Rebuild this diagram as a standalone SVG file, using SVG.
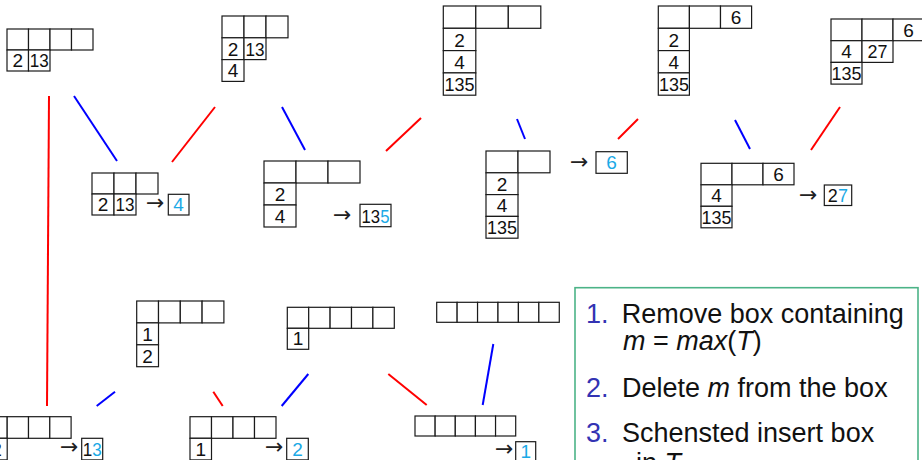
<svg xmlns="http://www.w3.org/2000/svg" width="922" height="460" viewBox="0 0 922 460">
<style>
.c{fill:#fff;stroke:#1a1a1a;stroke-width:1.2}
.t{font-family:"Liberation Sans",Arial,sans-serif;font-size:19px;text-anchor:middle;fill:#111}
.s{text-anchor:start}
.o{fill:#1aa9e6}
.ar{font-family:"DejaVu Sans",sans-serif;font-size:22px;fill:#222}
.r{stroke:#ff0000;stroke-width:2;fill:none}
.b{stroke:#0000ff;stroke-width:2;fill:none}
.tx{font-family:"Liberation Sans",Arial,sans-serif;font-size:27px;fill:#111}
.n{fill:#3333b3}
</style>
<rect width="922" height="460" fill="#fff"/>
<g id="connectors">
<line class="r" x1="49" y1="96" x2="47" y2="406"/>
<line class="r" x1="172" y1="162" x2="215" y2="107"/>
<line class="r" x1="386" y1="151" x2="421" y2="118"/>
<line class="r" x1="618" y1="139" x2="638" y2="119"/>
<line class="r" x1="811" y1="150" x2="840" y2="107"/>
<line class="r" x1="213.3" y1="391.7" x2="222.7" y2="406"/>
<line class="r" x1="388.3" y1="374" x2="426.7" y2="405"/>
<line class="b" x1="74" y1="96" x2="117" y2="161"/>
<line class="b" x1="282" y1="107" x2="305" y2="150"/>
<line class="b" x1="517" y1="119" x2="525" y2="139"/>
<line class="b" x1="735" y1="120" x2="750" y2="149"/>
<line class="b" x1="96.7" y1="406" x2="115" y2="391.7"/>
<line class="b" x1="281.7" y1="406" x2="308.3" y2="374"/>
<line class="b" x1="493.3" y1="344" x2="482.7" y2="405"/>
</g>
<g id="nodeA">
<rect class="c" x="7" y="29" width="21.5" height="21"/>
<rect class="c" x="28.5" y="29" width="21.5" height="21"/>
<rect class="c" x="50" y="29" width="21.5" height="21"/>
<rect class="c" x="71.5" y="29" width="21.5" height="21"/>
<rect class="c" x="7" y="50" width="21.5" height="21"/>
<rect class="c" x="28.5" y="50" width="21.5" height="21"/>
<text class="t" x="17.75" y="67">2</text>
<text class="t" x="39.25" y="67" textLength="19" lengthAdjust="spacingAndGlyphs">13</text>
</g>
<g id="nodeB">
<rect class="c" x="92" y="173" width="22" height="21"/>
<rect class="c" x="114" y="173" width="22" height="21"/>
<rect class="c" x="136" y="173" width="22" height="21"/>
<rect class="c" x="92" y="194" width="22" height="21"/>
<rect class="c" x="114" y="194" width="22" height="21"/>
<text class="t" x="103" y="211">2</text>
<text class="t" x="125" y="211" textLength="19" lengthAdjust="spacingAndGlyphs">13</text>
<text class="ar" x="146" y="209.5">→</text>
<rect class="c" x="168.3" y="194.3" width="20.7" height="20.7"/>
<text class="t o" x="178.6" y="211">4</text>
</g>
<g id="nodeC">
<rect class="c" x="222" y="16" width="22" height="21.8"/>
<rect class="c" x="244" y="16" width="22" height="21.8"/>
<rect class="c" x="266" y="16" width="22" height="21.8"/>
<rect class="c" x="222" y="37.8" width="22" height="21.8"/>
<rect class="c" x="244" y="37.8" width="22" height="21.8"/>
<rect class="c" x="222" y="59.6" width="22" height="21.8"/>
<text class="t" x="233" y="55.6">2</text>
<text class="t" x="255" y="55.6" textLength="19" lengthAdjust="spacingAndGlyphs">13</text>
<text class="t" x="233" y="77.4">4</text>
</g>
<g id="nodeD">
<rect class="c" x="264" y="161" width="32" height="22"/>
<rect class="c" x="296" y="161" width="32" height="22"/>
<rect class="c" x="328" y="161" width="32" height="22"/>
<rect class="c" x="264" y="183" width="32" height="22"/>
<rect class="c" x="264" y="205" width="32" height="22"/>
<text class="t" x="280" y="201">2</text>
<text class="t" x="280" y="223">4</text>
<text class="ar" x="333" y="221.5">→</text>
<rect class="c" x="360" y="204.3" width="31" height="22.4"/>
<text class="t s" x="361.5" y="222.5" textLength="18.6" lengthAdjust="spacingAndGlyphs">13</text>
<text class="t s o" x="380.3" y="222.5" textLength="9.3" lengthAdjust="spacingAndGlyphs">5</text>
</g>
<g id="nodeE">
<rect class="c" x="443.3" y="6" width="32.5" height="22.3"/>
<rect class="c" x="475.8" y="6" width="32.5" height="22.3"/>
<rect class="c" x="508.3" y="6" width="32.5" height="22.3"/>
<rect class="c" x="443.3" y="28.3" width="32.5" height="22.3"/>
<rect class="c" x="443.3" y="50.6" width="32.5" height="22.3"/>
<rect class="c" x="443.3" y="72.9" width="32.5" height="22.3"/>
<text class="t" x="459.5" y="46.6">2</text>
<text class="t" x="459.5" y="68.9">4</text>
<text class="t" x="459.5" y="91.2" textLength="30" lengthAdjust="spacingAndGlyphs">135</text>
</g>
<g id="nodeF">
<rect class="c" x="486" y="151" width="32" height="21.8"/>
<rect class="c" x="518" y="151" width="32" height="21.8"/>
<rect class="c" x="486" y="172.8" width="32" height="21.8"/>
<rect class="c" x="486" y="194.6" width="32" height="21.8"/>
<rect class="c" x="486" y="216.4" width="32" height="21.8"/>
<text class="t" x="502" y="190.6">2</text>
<text class="t" x="502" y="212.4">4</text>
<text class="t" x="502" y="234.2" textLength="30" lengthAdjust="spacingAndGlyphs">135</text>
<text class="ar" x="570" y="168.5">→</text>
<rect class="c" x="596" y="151.7" width="31.3" height="21.6"/>
<text class="t o" x="611.6" y="169">6</text>
</g>
<g id="nodeG">
<rect class="c" x="658.3" y="6" width="31.1" height="22.3"/>
<rect class="c" x="689.4" y="6" width="31.1" height="22.3"/>
<rect class="c" x="720.5" y="6" width="31.1" height="22.3"/>
<rect class="c" x="658.3" y="28.3" width="31.1" height="22.3"/>
<rect class="c" x="658.3" y="50.6" width="31.1" height="22.3"/>
<rect class="c" x="658.3" y="72.9" width="31.1" height="22.3"/>
<text class="t" x="736" y="24.3">6</text>
<text class="t" x="673.9" y="46.6">2</text>
<text class="t" x="673.9" y="68.9">4</text>
<text class="t" x="673.9" y="91.2" textLength="30" lengthAdjust="spacingAndGlyphs">135</text>
</g>
<g id="nodeH">
<rect class="c" x="701" y="163.3" width="31" height="21.5"/>
<rect class="c" x="732" y="163.3" width="31" height="21.5"/>
<rect class="c" x="763" y="163.3" width="31" height="21.5"/>
<rect class="c" x="701" y="184.8" width="31" height="21.5"/>
<rect class="c" x="701" y="206.3" width="31" height="21.5"/>
<text class="t" x="778.5" y="180.8">6</text>
<text class="t" x="716.5" y="202.3">4</text>
<text class="t" x="716.5" y="223.8" textLength="30" lengthAdjust="spacingAndGlyphs">135</text>
<text class="ar" x="799" y="202">→</text>
<rect class="c" x="824.3" y="185" width="27.4" height="20.5"/>
<text class="t s" x="827.8" y="201.5" textLength="10" lengthAdjust="spacingAndGlyphs">2</text>
<text class="t s o" x="838" y="201.5" textLength="10" lengthAdjust="spacingAndGlyphs">7</text>
</g>
<g id="nodeI">
<rect class="c" x="831" y="19" width="31" height="21.7"/>
<rect class="c" x="862" y="19" width="31" height="21.7"/>
<rect class="c" x="893" y="19" width="31" height="21.7"/>
<rect class="c" x="831" y="40.7" width="31" height="21.7"/>
<rect class="c" x="862" y="40.7" width="31" height="21.7"/>
<rect class="c" x="831" y="62.4" width="31" height="21.7"/>
<text class="t" x="908.5" y="36.7">6</text>
<text class="t" x="846.5" y="58.4">4</text>
<text class="t" x="877.5" y="58.4" textLength="20" lengthAdjust="spacingAndGlyphs">27</text>
<text class="t" x="846.5" y="80.1" textLength="30" lengthAdjust="spacingAndGlyphs">135</text>
</g>
<g id="nodeJ">
<rect class="c" x="136.7" y="301" width="21.8" height="21.9"/>
<rect class="c" x="158.5" y="301" width="21.8" height="21.9"/>
<rect class="c" x="180.3" y="301" width="21.8" height="21.9"/>
<rect class="c" x="202.1" y="301" width="21.8" height="21.9"/>
<rect class="c" x="136.7" y="322.9" width="21.8" height="21.9"/>
<rect class="c" x="136.7" y="344.8" width="21.8" height="21.9"/>
<text class="t" x="147.6" y="340.8">1</text>
<text class="t" x="147.6" y="362.7">2</text>
</g>
<g id="nodeK">
<rect class="c" x="-14.1" y="416.7" width="21.3" height="21.6"/>
<rect class="c" x="7.2" y="416.7" width="21.3" height="21.6"/>
<rect class="c" x="28.5" y="416.7" width="21.3" height="21.6"/>
<rect class="c" x="49.8" y="416.7" width="21.3" height="21.6"/>
<rect class="c" x="-14.1" y="438.3" width="21.3" height="21.6"/>
<text class="t" x="-3.45" y="456">2</text>
<text class="ar" x="60" y="453.5">→</text>
<rect class="c" x="81.7" y="438.3" width="21" height="21.6"/>
<text class="t s" x="82.7" y="456" textLength="9.5" lengthAdjust="spacingAndGlyphs">1</text>
<text class="t s o" x="92.2" y="456" textLength="9.5" lengthAdjust="spacingAndGlyphs">3</text>
</g>
<g id="nodeL">
<rect class="c" x="190" y="416.7" width="21.5" height="21.6"/>
<rect class="c" x="211.5" y="416.7" width="21.5" height="21.6"/>
<rect class="c" x="233" y="416.7" width="21.5" height="21.6"/>
<rect class="c" x="254.5" y="416.7" width="21.5" height="21.6"/>
<rect class="c" x="190" y="438.3" width="21.5" height="21.6"/>
<text class="t" x="200.75" y="456">1</text>
<text class="ar" x="265" y="453.5">→</text>
<rect class="c" x="286.7" y="438.3" width="21.6" height="21.6"/>
<text class="t o" x="297.5" y="456">2</text>
</g>
<g id="nodeM">
<rect class="c" x="287.3" y="307.3" width="21.4" height="21"/>
<rect class="c" x="308.7" y="307.3" width="21.4" height="21"/>
<rect class="c" x="330.1" y="307.3" width="21.4" height="21"/>
<rect class="c" x="351.5" y="307.3" width="21.4" height="21"/>
<rect class="c" x="372.9" y="307.3" width="21.4" height="21"/>
<rect class="c" x="287.3" y="328.3" width="21.4" height="21"/>
<text class="t" x="298" y="345.3">1</text>
</g>
<g id="nodeN">
<rect class="c" x="436.7" y="302.3" width="20.43" height="20"/>
<rect class="c" x="457.13" y="302.3" width="20.43" height="20"/>
<rect class="c" x="477.56" y="302.3" width="20.43" height="20"/>
<rect class="c" x="497.99" y="302.3" width="20.43" height="20"/>
<rect class="c" x="518.42" y="302.3" width="20.43" height="20"/>
<rect class="c" x="538.85" y="302.3" width="20.43" height="20"/>
</g>
<g id="nodeO">
<rect class="c" x="415" y="416" width="20.14" height="20"/>
<rect class="c" x="435.14" y="416" width="20.14" height="20"/>
<rect class="c" x="455.28" y="416" width="20.14" height="20"/>
<rect class="c" x="475.42" y="416" width="20.14" height="20"/>
<rect class="c" x="495.56" y="416" width="20.14" height="20"/>
<text class="ar" x="495" y="455.5">→</text>
<rect class="c" x="515.7" y="441.7" width="20" height="20"/>
<text class="t o" x="525.7" y="458">1</text>
</g>
<g id="steps">
<rect x="575" y="287.7" width="343" height="200" fill="#fff" stroke="#4cb387" stroke-width="1.6"/>
<text class="tx n" x="586" y="323">1.</text>
<text class="tx" x="621.7" y="323">Remove box containing</text>
<text class="tx" x="623" y="350"><tspan font-style="italic">m</tspan> = <tspan font-style="italic">max</tspan>(<tspan font-style="italic">T</tspan>)</text>
<text class="tx n" x="586" y="396.7">2.</text>
<text class="tx" x="622" y="396.7">Delete <tspan font-style="italic">m</tspan> from the box</text>
<text class="tx n" x="586" y="441.7">3.</text>
<text class="tx" x="622" y="441.7">Schensted insert box</text>
<text class="tx" x="636" y="472">in <tspan font-style="italic">T</tspan><tspan font-size="19" dy="4">i+1</tspan></text>
</g>
</svg>
